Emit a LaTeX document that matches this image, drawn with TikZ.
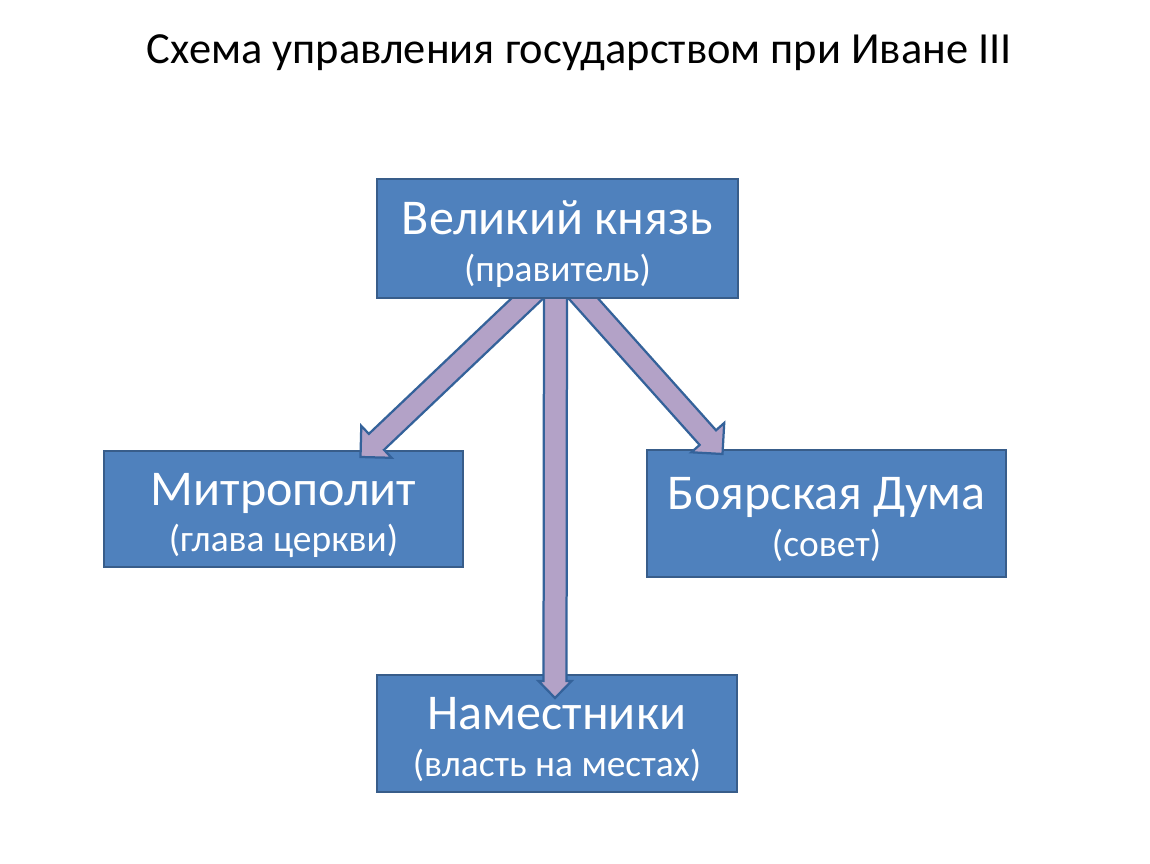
\documentclass[tikz,border=0pt]{standalone}
\usepackage{fontspec}
\setmainfont{Carlito}
\usetikzlibrary{calc}

\definecolor{boxfill}{HTML}{4F81BD}
\definecolor{boxline}{HTML}{385D8A}
\definecolor{arrfill}{HTML}{B3A2C7}
\definecolor{arrline}{HTML}{34629A}

% block arrow: start, tip, shaft half width, head half width, head length
\newcommand{\blockarrow}[5]{%
  \path (#2) coordinate (ba-t) ($(#2)!#5!(#1)$) coordinate (ba-h);
  \filldraw[arrowbody] ($(#1)!#3!90:(#2)$) -- ($(ba-h)!#3!90:(ba-t)$)
    -- ($(ba-h)!#4!90:(ba-t)$) -- (ba-t) -- ($(ba-h)!#4!-90:(ba-t)$)
    -- ($(ba-h)!#3!-90:(ba-t)$) -- ($(#1)!#3!-90:(#2)$) -- cycle;
}
\newcommand{\bigline}[1]{{\fontsize{28.5}{34}\selectfont\rule{0pt}{0.9em}#1}}

\begin{document}
\begin{tikzpicture}[x=0.02cm, y=-0.02cm,
    box/.style={draw=boxline, fill=boxfill, line width=0.04cm, text=white,
      align=center, inner sep=0pt, font=\fontsize{21.3}{26.7}\selectfont},
    arrowbody/.style={fill=arrfill, draw=arrline, line width=0.045cm, line join=miter}]

    \fill[white] (0,0) rectangle (1150,864);
    \useasboundingbox (0,0) rectangle (1150,864);

    % 1. Заголовок
    \node[font=\fontsize{25.3}{30}\selectfont] (title) at (579.5,53)
        {Схема управления государством при Иване III};

    % 2. Нижние блоки
    \node[box, minimum width=7.18cm, minimum height=2.32cm] (metro) at (283.5,509)
        {\bigline{Митрополит}\\(глава церкви)};
    \node[box, minimum width=7.18cm, minimum height=2.54cm] (duma) at (826.5,513.5)
        {\bigline{Боярская Дума}\\(совет)};
    \node[box, minimum width=7.2cm, minimum height=2.34cm] (vice) at (557,733.5)
        {\bigline{Наместники}\\(власть на местах)};

    % 3. Стрелки
    \blockarrow{$(557.5,298)+(-15,-14)$}{$(metro.north)+(77,7)$}{0.22cm}{0.44cm}{0.44cm}
    \blockarrow{$(557.5,298)+(12,-15)$}{$(duma.north)+(-104,5)$}{0.22cm}{0.44cm}{0.44cm}
    \blockarrow{$(557.5,298)+(-2,-14)$}{$(vice.north)+(-2,24)$}{0.23cm}{0.33cm}{0.34cm}

    % 4. Верхний блок
    \node[box, minimum width=7.22cm, minimum height=2.38cm] (ruler) at (557.5,238.5)
        {\bigline{Великий князь}\\(правитель)};
\end{tikzpicture}
\end{document}
